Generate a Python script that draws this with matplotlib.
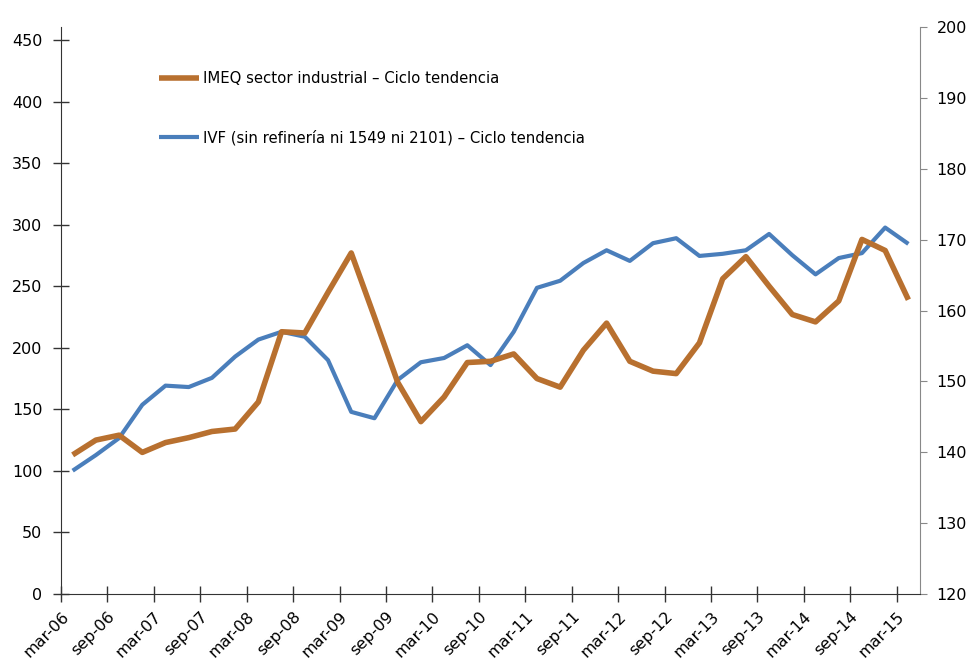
import matplotlib
matplotlib.use('Agg')
import matplotlib.pyplot as plt
import numpy as np

# Quarterly series, mar-06 .. mar-15
imeq = [113, 125, 129, 115, 123, 127, 132, 134, 156, 213,
        212, 245, 277, 225, 172, 140, 160, 188, 189, 195,
        175, 168, 198, 220, 189, 181, 179, 204, 256, 274,
        250, 227, 221, 238, 288, 279, 239]
ivf = [137.4, 139.6, 142.0, 146.7, 149.4, 149.2, 150.5, 153.5, 155.9, 157.0,
       156.3, 153.0, 145.7, 144.8, 150.2, 152.7, 153.3, 155.1, 152.3, 157.0,
       163.2, 164.2, 166.7, 168.5, 167.0, 169.5, 170.2, 167.7, 168.0, 168.5,
       170.8, 167.8, 165.1, 167.4, 168.1, 171.7, 169.4]
tick_labels = ['mar-06', 'sep-06', 'mar-07', 'sep-07', 'mar-08', 'sep-08',
               'mar-09', 'sep-09', 'mar-10', 'sep-10', 'mar-11', 'sep-11',
               'mar-12', 'sep-12', 'mar-13', 'sep-13', 'mar-14', 'sep-14',
               'mar-15']

orange = '#B8702F'
blue = '#4A7EBB'

x = np.arange(len(imeq)) + 0.5

fig = plt.figure(figsize=(9.72, 6.62), dpi=100)
ax = fig.add_axes([0.0628, 0.1027, 0.8837, 0.8565])
ax2 = ax.twinx()

l1, = ax.plot(x, imeq, color=orange, linewidth=4, solid_capstyle='butt')
l2, = ax2.plot(x, ivf, color=blue, linewidth=3.0, solid_capstyle='butt')
ax.set_zorder(ax2.get_zorder() + 1)
ax.patch.set_visible(False)

# left axis
ax.set_xlim(0, len(imeq))
ax.set_ylim(0, 460.5)
ax.set_yticks(np.arange(0, 451, 50))
ax.set_xticks(np.arange(0, len(imeq), 2))
ax.set_xticklabels(tick_labels, rotation=45, ha='right', rotation_mode='anchor')
ax.tick_params(axis='both', direction='inout', length=11, width=1, labelsize=11.5,
               color='#333333')
ax.tick_params(axis='x', pad=5)
ax.tick_params(axis='y', pad=8)
for s in ['top', 'right']:
    ax.spines[s].set_visible(False)
ax.spines['left'].set_color('#333333')
ax.spines['bottom'].set_color('#333333')

# right axis
ax2.set_ylim(120, 200)
ax2.set_yticks(np.arange(120, 201, 10))
ax2.tick_params(axis='y', direction='out', length=5, labelsize=11.5, color='#888888', pad=7)
for s in ['top', 'left', 'bottom']:
    ax2.spines[s].set_visible(False)
ax2.spines['right'].set_color('#888888')

leg = ax.legend([l1, l2],
                ['IMEQ sector industrial – Ciclo tendencia',
                 'IVF (sin refinería ni 1549 ni 2101) – Ciclo tendencia'],
                loc='upper left', bbox_to_anchor=(0.107, 0.933), frameon=False,
                fontsize=10.7, handlelength=2.7, handletextpad=0.3,
                labelspacing=2.95, borderaxespad=0)

fig.savefig('out.png', dpi=100)
